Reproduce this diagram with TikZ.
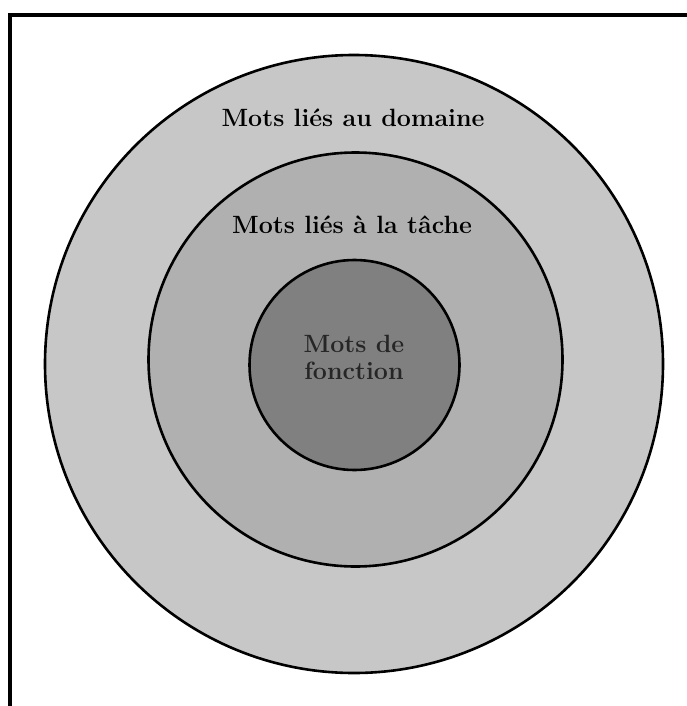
\documentclass[tikz,border=0pt]{standalone}
\usepackage{fontspec}
\begin{document}
\begin{tikzpicture}[x=1pt,y=-1pt,
  ring/.style={draw=black,line width=2.6pt},
  lbl/.style={font=\bfseries\fontsize{25}{27}\selectfont,inner sep=0pt,align=center}]
\useasboundingbox (0,0) rectangle (687,706);
\fill[white] (0,0) rectangle (687,706);
\draw[ring,fill=black!22] (354,364) circle (309);
\draw[ring,fill=black!31] (355.5,359.5) circle (207);
\draw[ring,fill=black!50] (354.5,365) circle (105);
\draw[line width=3.2pt] (10,706) -- (10,15) -- (687,15);
\node[lbl] (domaine) at (353,118) {Mots liés au domaine};
\node[lbl] (tache) at (352,225) {Mots liés à la tâche};
\node[lbl,text=black!85] (fonction) at (354,357) {Mots de\\fonction};
\end{tikzpicture}
\end{document}
